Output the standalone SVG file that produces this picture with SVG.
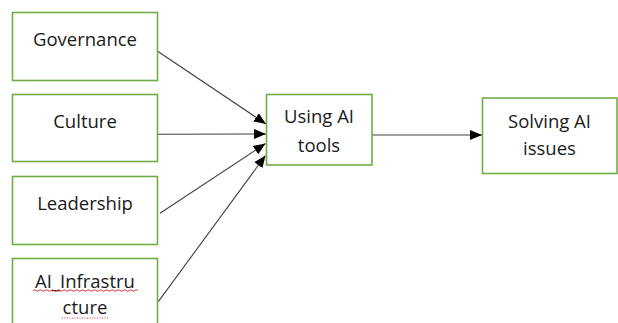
<svg xmlns="http://www.w3.org/2000/svg" width="618" height="323" viewBox="0 0 618 323">
  <style>
    .box { fill: #ffffff; stroke: #70ad47; stroke-width: 1.6; }
    .lbl { font-family: "Open Sans", "Liberation Sans", sans-serif; font-size: 18.5px; fill: #1a1a1a; text-anchor: middle; }
    .edge { stroke: #404040; stroke-width: 1.1; fill: none; marker-end: url(#arrow); }
    .spell { stroke: #e03030; stroke-width: 1; fill: none; }
  </style>
  <defs>
    <marker id="arrow" viewBox="0 0 12 10" refX="12" refY="5" markerWidth="12" markerHeight="10" markerUnits="userSpaceOnUse" orient="auto">
      <path d="M0,0 L12,5 L0,10 z" fill="#000000"/>
    </marker>
  </defs>
  <rect width="618" height="323" fill="#ffffff"/>

  <g id="connectors">
    <line class="edge" x1="158" y1="51.5" x2="266" y2="124"/>
    <line class="edge" x1="158" y1="134.3" x2="266" y2="134"/>
    <line class="edge" x1="160" y1="213.3" x2="265.5" y2="143.5"/>
    <line class="edge" x1="158.3" y1="301.7" x2="265.5" y2="155.5"/>
    <line class="edge" x1="372" y1="135" x2="482" y2="135"/>
  </g>

  <g id="governance">
    <rect class="box" x="12.5" y="12.5" width="145" height="68"/>
    <text class="lbl" x="85" y="45.5">Governance</text>
  </g>
  <g id="culture">
    <rect class="box" x="12.5" y="94.5" width="145" height="67"/>
    <text class="lbl" x="85" y="127.5">Culture</text>
  </g>
  <g id="leadership">
    <rect class="box" x="12.5" y="176.5" width="145" height="68"/>
    <text class="lbl" x="85" y="209.5">Leadership</text>
  </g>
  <g id="ai-infrastructure">
    <rect class="box" x="12.5" y="258.5" width="145" height="70"/>
    <text class="lbl" x="85" y="287.5">AI_Infrastru</text>
    <text class="lbl" x="85" y="314">cture</text>
    <path class="spell" d="M33,290.5 q1.5,-1.5 3,0 t3,0 t3,0 t3,0 t3,0 t3,0 t3,0 t3,0 t3,0 t3,0 t3,0 t3,0 t3,0 t3,0 t3,0 t3,0 t3,0 t3,0 t3,0 t3,0 t3,0 t3,0 t3,0 t3,0 t3,0 t3,0 t3,0 t3,0 t3,0 t3,0 t3,0 t3,0 t3,0 t3,0 t3,0"/>
    <line class="spell" x1="62" y1="318" x2="108" y2="318" stroke-width="0.8" stroke-dasharray="1 1.5"/>
  </g>
  <g id="using-ai-tools">
    <rect class="box" x="266.5" y="94.5" width="105.5" height="70.5"/>
    <text class="lbl" x="319" y="123">Using AI</text>
    <text class="lbl" x="319" y="151.5">tools</text>
  </g>
  <g id="solving-ai-issues">
    <rect class="box" x="482.5" y="98" width="134.5" height="75.5"/>
    <text class="lbl" x="549.5" y="128">Solving AI</text>
    <text class="lbl" x="549.5" y="155">issues</text>
  </g>
</svg>
